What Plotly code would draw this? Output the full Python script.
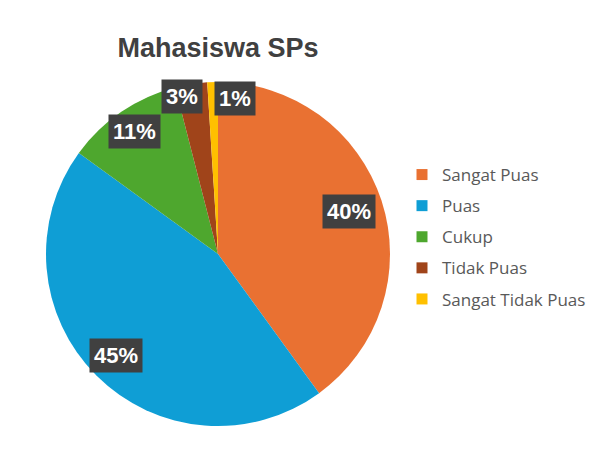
import math
import plotly.graph_objects as go

categories = ["Sangat Puas", "Puas", "Cukup", "Tidak Puas", "Sangat Tidak Puas"]
values = [40, 45, 11, 3, 1]
colors = ["#E97132", "#0F9ED5", "#4EA72E", "#A0441A", "#FFC000"]

W, H = 608, 467
OFF = 8  # page body margin, figure starts 8px in
cx, cy, R = 218 - OFF, 254 - OFF, 172

# label placement: fraction of radius and small pixel nudges
label_r = [0.80, 0.835, 0.86, 0.925, 0.905]
label_dx = [0, 0, 0, -11, 22]

fig = go.Figure()
fig.add_trace(go.Pie(
    labels=categories,
    values=values,
    marker=dict(colors=colors, line=dict(width=0)),
    sort=False,
    direction="clockwise",
    rotation=0,
    textinfo="none",
    hoverinfo="label+percent",
    showlegend=False,
    domain=dict(x=[(cx - R) / W, (cx + R) / W],
                y=[1 - (cy + R) / H, 1 - (cy - R) / H]),
))

# legend entries (one group each so the rows can be spaced out)
for cat, col in zip(categories, colors):
    fig.add_trace(go.Scatter(
        x=[None], y=[None], mode="markers", name=cat, legendgroup=cat,
        marker=dict(symbol="square", size=11, color=col),
        hoverinfo="skip",
    ))

total = sum(values)
cum = 0
for v, f, dx in zip(values, label_r, label_dx):
    mid = (cum + v / 2) / total * 2 * math.pi
    cum += v
    px = cx + f * R * math.sin(mid) + dx
    py = cy - f * R * math.cos(mid)
    fig.add_annotation(
        x=px / W, y=1 - py / H, xref="paper", yref="paper",
        xanchor="center", yanchor="middle",
        text="<b>%d%%</b>" % round(v / total * 100),
        showarrow=False,
        font=dict(family="Liberation Sans, Arial", size=22, color="white"),
        bgcolor="#404040",
        borderpad=4,
    )

fig.update_layout(
    width=W, height=H,
    margin=dict(l=0, r=0, t=0, b=0),
    paper_bgcolor="white",
    plot_bgcolor="white",
    xaxis=dict(visible=False),
    yaxis=dict(visible=False),
    title=dict(text="<b>Mahasiswa SPs</b>", x=cx / W, xanchor="center",
               y=1 - (48 - OFF) / H, yanchor="middle",
               font=dict(family="Liberation Sans, Arial", size=27, color="#404040")),
    legend=dict(x=(402 - OFF) / W, y=1 - (237 - OFF) / H, xanchor="left", yanchor="middle",
                font=dict(family="Open Sans, Inter", size=17, color="#595959"),
                itemwidth=30, traceorder="grouped", tracegroupgap=6),
)

fig.write_html("out.html")
